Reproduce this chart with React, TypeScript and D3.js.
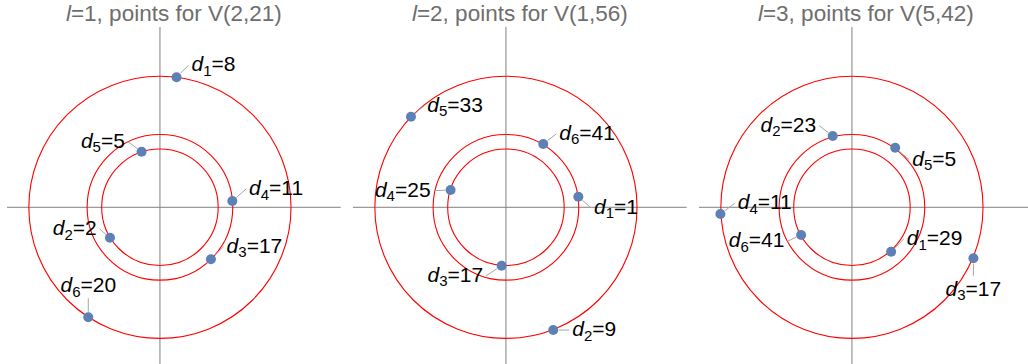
import { useEffect, useRef } from 'react'
import * as d3 from 'd3'

// one panel per l
const panelL = [1, 2, 3]
const panelV = ['V(2,21)', 'V(1,56)', 'V(5,42)']
const ringRadii = [4, 5, 9]

// points: subscript k, value d, position in plane
const pointsL1 = [
  { k: 1, d: 8, x: 1.14, y: 8.93 },
  { k: 2, d: 2, x: -3.43, y: -2.09 },
  { k: 3, d: 17, x: 3.5, y: -3.57 },
  { k: 4, d: 11, x: 4.97, y: 0.43 },
  { k: 5, d: 5, x: -1.26, y: 3.82 },
  { k: 6, d: 20, x: -4.92, y: -7.55 },
]
const pointsL2 = [
  { k: 1, d: 1, x: 4.97, y: 0.73 },
  { k: 2, d: 9, x: 3.25, y: -8.43 },
  { k: 3, d: 17, x: -0.3, y: -4.01 },
  { k: 4, d: 25, x: -3.8, y: 1.19 },
  { k: 5, d: 33, x: -6.52, y: 6.22 },
  { k: 6, d: 41, x: 2.56, y: 4.35 },
]
const pointsL3 = [
  { k: 1, d: 29, x: 2.69, y: -3.05 },
  { k: 2, d: 23, x: -1.32, y: 4.9 },
  { k: 3, d: 17, x: 8.34, y: -3.5 },
  { k: 4, d: 11, x: -9.03, y: -0.46 },
  { k: 5, d: 5, x: 2.97, y: 4.09 },
  { k: 6, d: 41, x: -3.49, y: -1.9 },
]
const panelPoints = [pointsL1, pointsL2, pointsL3]

// callout placement (anchor, px offset of text from point)
const calloutsL1 = [['start', 15, -6], ['end', -13.3, -2.7], ['start', 15.7, -6.6], ['start', 16.7, -6], ['end', -16.7, -4], ['middle', 0, -25]]
const calloutsL2 = [['start', 15.7, 17.3], ['start', 19, 6], ['end', -18.4, 16], ['end', -20, 6.7], ['start', 16.3, -5], ['start', 16, -4]]
const calloutsL3 = [['start', 15.6, -6.7], ['end', -16.6, -4.3], ['middle', 0, 37.4], ['start', 17.3, -4.7], ['start', 17, 18], ['end', -16.7, 12.3]]
const panelCallouts = [calloutsL1, calloutsL2, calloutsL3]

const W = 1028
const H = 364
const FONT = "'Liberation Sans', Arial, sans-serif"

export default function App() {
  const svgRef = useRef<SVGSVGElement>(null)

  useEffect(() => {
    const svg = d3.select(svgRef.current)
    svg.selectAll('*').remove()

    const panelScale = d3.scaleBand<number>().domain([0, 1, 2]).range([0, 1038])
    const x = d3.scaleLinear().domain([-10.5, 12.41]).range([7, 340.7])
    const y = d3.scaleLinear().domain([-11.2, 12.38]).range([370.4, 27])

    panelL.forEach((l, i) => {
      const g = svg.append('g').attr('transform', `translate(${panelScale(i)},0)`)
      const cx = x(0)
      const cy = y(0)

      // axes through origin
      g.append('line')
        .attr('x1', x(-10.5)).attr('x2', x(12.41)).attr('y1', cy).attr('y2', cy)
        .attr('stroke', '#808080').attr('stroke-width', 1)
      g.append('line')
        .attr('x1', cx).attr('x2', cx).attr('y1', y(12.38)).attr('y2', y(-11.2))
        .attr('stroke', '#808080').attr('stroke-width', 1)

      g.selectAll('.ring')
        .data(ringRadii)
        .join('circle')
        .attr('cx', cx).attr('cy', cy)
        .attr('r', (r) => x(r) - x(0))
        .attr('fill', 'none').attr('stroke', '#ff0000').attr('stroke-width', 1.1)

      const title = g.append('text')
        .attr('x', (x(-10.5) + x(12.41)) / 2).attr('y', 21)
        .attr('text-anchor', 'middle').attr('fill', '#6e6e6e')
        .attr('font-family', FONT).attr('font-size', 22.5)
      title.append('tspan').attr('font-style', 'italic').text('l')
      title.append('tspan').text(`=${l}, points for ${panelV[i]}`)

      const pts = panelPoints[i]
      const cos = panelCallouts[i]

      pts.forEach((p, j) => {
        const px = x(p.x)
        const py = y(p.y)
        const [anchor, dx, dy] = cos[j] as [string, number, number]
        const tx = px + dx
        const ty = py + dy

        let ax: number, ay: number
        if (anchor === 'start') { ax = tx - 3; ay = ty - 6 }
        else if (anchor === 'end') { ax = tx + 3; ay = ty - 6 }
        else if (ty < py) { ax = tx; ay = ty + 6 }
        else { ax = tx; ay = ty - 20 }
        const len = Math.hypot(ax - px, ay - py)
        if (len > 6) {
          g.append('line')
            .attr('x1', px + ((ax - px) / len) * 5.5).attr('y1', py + ((ay - py) / len) * 5.5)
            .attr('x2', ax).attr('y2', ay)
            .attr('stroke', '#a6a6a6').attr('stroke-width', 1)
        }

        const t = g.append('text')
          .attr('x', tx).attr('y', ty)
          .attr('text-anchor', anchor)
          .attr('font-family', FONT).attr('font-size', 21).attr('fill', '#000')
        t.append('tspan').attr('font-style', 'italic').text('d')
        t.append('tspan').attr('font-size', 15).attr('dy', 4.5).text(p.k)
        t.append('tspan').attr('dy', -4.5).text(`=${p.d}`)
      })

      g.selectAll('.dot')
        .data(pts)
        .join('circle')
        .attr('cx', (p) => x(p.x))
        .attr('cy', (p) => y(p.y))
        .attr('r', 5)
        .attr('fill', '#5e81b5')
    })

    return () => {
      svg.selectAll('*').remove()
    }
  }, [])

  return (
    <svg
      ref={svgRef}
      width={W}
      height={H}
      style={{ position: 'absolute', left: 0, top: 0, background: '#fff' }}
    />
  )
}
